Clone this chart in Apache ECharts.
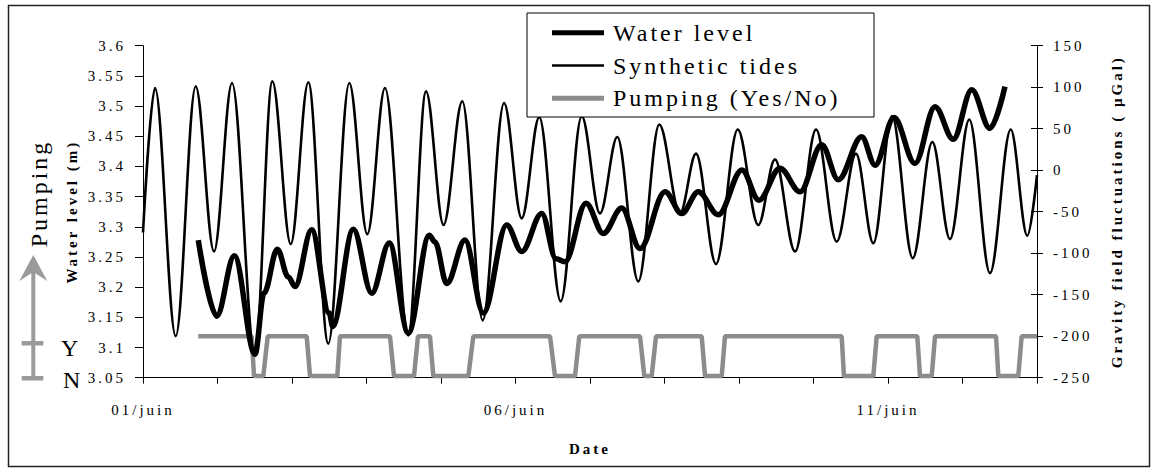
<!DOCTYPE html>
<html><head><meta charset="utf-8">
<script src="https://cdn.jsdelivr.net/npm/echarts@6/dist/echarts.min.js"></script>
<style>
html,body{margin:0;padding:0;background:#fff;}
#chart{width:1155px;height:472px;}
#chart text{letter-spacing:3px;}
</style></head><body><div id="chart"></div>
<script>
// x values: days since 01/juin 00:00
const dateLabels = ['01/juin', '06/juin', '11/juin'];
const dateLabelDays = [0, 5, 10];

// Synthetic tides (µGal, right axis): extrema
const tideDays = [0, 0.161, 0.439, 0.707, 0.953, 1.195, 1.503, 1.736, 1.983, 2.219, 2.487, 2.769, 3.011, 3.248, 3.561, 3.799, 4.034, 4.286, 4.560, 4.846, 5.083, 5.319, 5.607, 5.889, 6.134, 6.366, 6.648, 6.930, 7.208, 7.423, 7.691, 7.983, 8.259, 8.483, 8.752, 9.034, 9.311, 9.570, 9.803, 10.054, 10.332, 10.595, 10.832, 11.091, 11.369, 11.647, 11.870, 12.0];
const tideGal = [-75, 99, -200, 101, -98, 105, -223, 107, -89, 106, -209, 105, -77, 99, -199, 95, -66, 83, -181, 81, -58, 64, -158, 65, -52, 40, -134, 55, -52, 20, -113, 49, -66, 13, -98, 49, -86, 20, -88, 65, -106, 34, -83, 61, -124, 49, -79, -6];

// Water level (m, left axis)
const levelDays = [0.742, 0.989, 1.226, 1.503, 1.624, 1.803, 1.950, 2.040, 2.264, 2.500, 2.546, 2.823, 3.070, 3.306, 3.561, 3.843, 3.919, 4.077, 4.322, 4.568, 4.882, 5.083, 5.352, 5.544, 5.664, 5.946, 6.179, 6.426, 6.671, 7.007, 7.231, 7.454, 7.722, 8.040, 8.268, 8.550, 8.819, 9.110, 9.333, 9.647, 9.826, 10.081, 10.362, 10.631, 10.876, 11.124, 11.369, 11.570];
const levelM = [3.278, 3.152, 3.252, 3.089, 3.190, 3.263, 3.217, 3.201, 3.295, 3.157, 3.135, 3.296, 3.190, 3.273, 3.124, 3.286, 3.275, 3.206, 3.278, 3.157, 3.303, 3.259, 3.322, 3.247, 3.242, 3.339, 3.289, 3.331, 3.264, 3.358, 3.322, 3.358, 3.320, 3.394, 3.344, 3.397, 3.358, 3.436, 3.378, 3.449, 3.402, 3.481, 3.405, 3.499, 3.445, 3.527, 3.463, 3.532];

// Pumping state (1 = Yes, 0 = No), drawn on the gravity axis
const pumpDays = [0.742, 1.459, 1.490, 1.615, 1.674, 2.197, 2.242, 2.608, 2.644, 3.315, 3.369, 3.638, 3.691, 3.852, 3.897, 4.367, 4.434, 5.463, 5.530, 5.799, 5.856, 6.671, 6.729, 6.828, 6.886, 7.499, 7.544, 7.768, 7.812, 9.378, 9.409, 9.803, 9.848, 10.393, 10.430, 10.587, 10.631, 11.450, 11.481, 11.749, 11.794, 12.0];
const pumpOn = [1,1,0,0,1,1,0,0,1,1,0,0,1,1,0,0,1,1,0,0,1,1,0,0,1,1,0,0,1,1,0,0,1,1,0,0,1,1,0,0,1,1];
const pumpLevels = [-248, -200]; // No, Yes

const FONT = 'Liberation Serif';
const zip = (xs, ys) => xs.map((x, i) => [x, ys[i]]);
const GREY = '#8c8c8c';

const chart = echarts.init(document.getElementById('chart'), null, {renderer: 'svg'});
const option = {
  animation: false,
  backgroundColor: '#fff',
  textStyle: {fontFamily: FONT, color: '#000'},
  grid: {left: 143, right: 118, top: 45.7, bottom: 94.3},
  legend: {
    orient: 'vertical', left: 552, top: 20.7, padding: 0, itemGap: 8.8,
    itemWidth: 52, itemHeight: 24, z: 11, selectedMode: false, symbolKeepAspect: true,
    textStyle: {fontFamily: FONT, fontSize: 24, color: '#000', padding: [8, 0, 0, 4]},
    data: [
      {name: 'Water level', icon: 'path://M0 0H52V5H0Z', itemStyle: {color: '#000'}},
      {name: 'Synthetic tides', icon: 'path://M0 0H52V2.7H0Z', itemStyle: {color: '#000'}},
      {name: 'Pumping (Yes/No)', icon: 'path://M0 0H52V5H0Z', itemStyle: {color: GREY}}
    ]
  },
  xAxis: {
    type: 'value', min: 0, max: 12, interval: 1,
    name: 'Date', nameLocation: 'middle', nameGap: 64,
    nameTextStyle: {fontFamily: FONT, fontSize: 15, fontWeight: 'bold', color: '#000'},
    axisLine: {show: true, onZero: false, lineStyle: {color: '#000', width: 1}},
    axisTick: {show: true, length: 6, lineStyle: {color: '#000'}},
    axisLabel: {
      margin: 25, fontSize: 15, color: '#000', fontFamily: FONT,
      formatter: v => {
        const r = Math.round(v);
        const i = dateLabelDays.indexOf(r);
        return (Math.abs(v - r) < 1e-6 && i >= 0) ? dateLabels[i] : '';
      }
    },
    splitLine: {show: false}
  },
  yAxis: [
    {
      type: 'value', position: 'left', min: 3.05, max: 3.6, interval: 0.05,
      name: 'Water level (m)', nameLocation: 'middle', nameGap: 64, nameRotate: 90,
      nameTextStyle: {fontFamily: FONT, fontSize: 15, fontWeight: 'bold', color: '#000'},
      axisLine: {show: true, onZero: false, lineStyle: {color: '#000', width: 1}},
      axisTick: {show: true, length: 8, lineStyle: {color: '#000'}},
      axisLabel: {margin: 17, fontSize: 15, color: '#000', fontFamily: FONT,
        formatter: v => String(+(+v).toFixed(2))},
      splitLine: {show: false}
    },
    {
      type: 'value', position: 'right', min: -250, max: 150, interval: 50,
      name: 'Gravity field fluctuations ( µGal)', nameLocation: 'middle', nameGap: 72, nameRotate: 90,
      nameTextStyle: {fontFamily: FONT, fontSize: 15, fontWeight: 'bold', color: '#000'},
      axisLine: {show: true, onZero: false, lineStyle: {color: '#000', width: 1}},
      axisTick: {show: true, length: 6, lineStyle: {color: '#000'}},
      axisLabel: {margin: 16, fontSize: 15, color: '#000', fontFamily: FONT},
      splitLine: {show: false}
    },
    {
      type: 'value', position: 'right', min: -250, max: 150, interval: 50,
      axisLine: {show: false, onZero: false},
      axisTick: {show: true, inside: true, length: 6, lineStyle: {color: '#000'}},
      axisLabel: {show: false}, splitLine: {show: false}
    }
  ],
  series: [
    {
      name: 'Pumping (Yes/No)', type: 'line', yAxisIndex: 1, z: 2,
      data: pumpDays.map((d, i) => [d, pumpLevels[pumpOn[i]]]),
      symbol: 'none', showSymbol: false,
      lineStyle: {color: GREY, width: 4.5}, itemStyle: {color: GREY}
    },
    {
      name: 'Synthetic tides', type: 'line', yAxisIndex: 1, z: 3,
      data: zip(tideDays, tideGal), smooth: 0.35, smoothMonotone: 'x',
      symbol: 'none', showSymbol: false,
      lineStyle: {color: '#000', width: 2.6}, itemStyle: {color: '#000'}
    },
    {
      name: 'Water level', type: 'line', yAxisIndex: 0, z: 4,
      data: zip(levelDays, levelM), smooth: 0.35, smoothMonotone: 'x',
      symbol: 'none', showSymbol: false,
      lineStyle: {color: '#000', width: 5.5}, itemStyle: {color: '#000'}
    }
  ],
  graphic: [
    {type: 'rect', z: 0, silent: true, shape: {x: 8.5, y: 5.5, width: 1141, height: 461},
      style: {fill: 'none', stroke: '#222', lineWidth: 1.5}},
    {type: 'rect', z: 10, silent: true, shape: {x: 527, y: 13, width: 347, height: 104},
      style: {fill: '#fff', stroke: '#000', lineWidth: 1}},
    {type: 'rect', silent: true, shape: {x: 31.3, y: 268, width: 4, height: 112}, style: {fill: '#9a9a9a'}},
    {type: 'polygon', silent: true, shape: {points: [[33.3, 255], [47.3, 281], [33.3, 272], [19.3, 281]]}, style: {fill: '#9a9a9a'}},
    {type: 'rect', silent: true, shape: {x: 21.7, y: 341, width: 21.6, height: 4.5}, style: {fill: '#9a9a9a'}},
    {type: 'rect', silent: true, shape: {x: 21.7, y: 376, width: 21.6, height: 4.5}, style: {fill: '#9a9a9a'}},
    {type: 'text', silent: true, x: 61, y: 348,
      style: {text: 'Y', fontFamily: FONT, fontSize: 24, fill: '#000', align: 'left', textAlign: 'left', verticalAlign: 'middle', textVerticalAlign: 'middle'}},
    {type: 'text', silent: true, x: 63, y: 380,
      style: {text: 'N', fontFamily: FONT, fontSize: 24, fill: '#000', align: 'left', textAlign: 'left', verticalAlign: 'middle', textVerticalAlign: 'middle'}},
    {type: 'text', silent: true, x: 38.6, y: 193.5, rotation: Math.PI / 2,
      style: {text: 'Pumping', fontFamily: FONT, fontSize: 24, fill: '#000', align: 'center', textAlign: 'center', verticalAlign: 'middle', textVerticalAlign: 'middle'}}
  ]
};
chart.setOption(option);
</script></body></html>
